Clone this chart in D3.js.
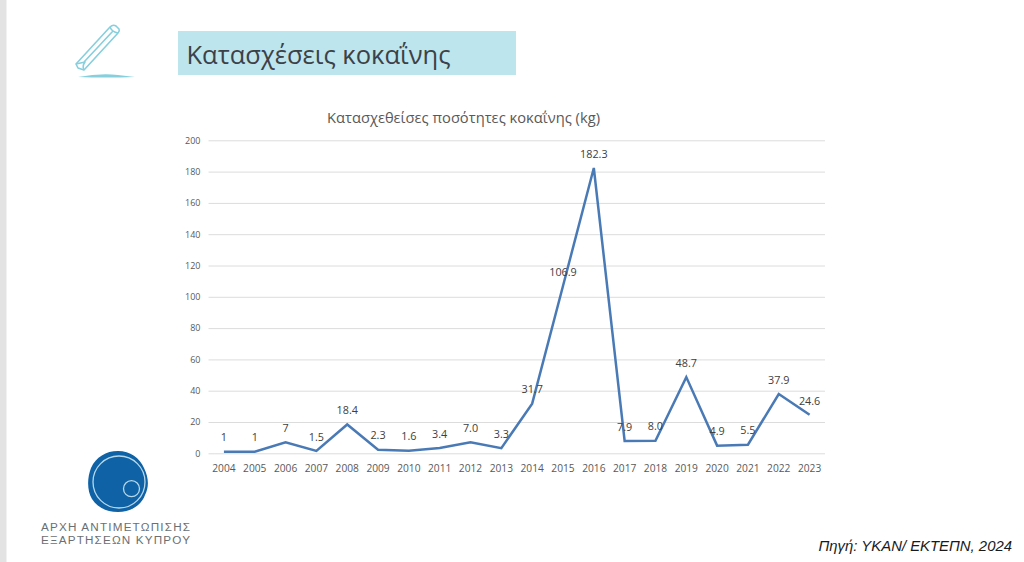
<!DOCTYPE html>
<html lang="el">
<head>
<meta charset="utf-8">
<script src="https://cdn.jsdelivr.net/npm/d3@7"></script>
<style>
html,body{margin:0;padding:0;background:#fff;}
svg{display:block;}
</style>
</head>
<body>
<svg id="c" width="1024" height="562"></svg>
<script>
const years = ["2004","2005","2006","2007","2008","2009","2010","2011","2012","2013","2014","2015","2016","2017","2018","2019","2020","2021","2022","2023"];
const values = [1,1,7,1.5,18.4,2.3,1.6,3.4,7.0,3.3,31.7,106.9,182.3,7.9,8.0,48.7,4.9,5.5,37.9,24.6];
const valueLabels = ["1","1","7","1.5","18.4","2.3","1.6","3.4","7.0","3.3","31.7","106.9","182.3","7.9","8.0","48.7","4.9","5.5","37.9","24.6"];
const yTicks = [0,20,40,60,80,100,120,140,160,180,200];
const slideTitle = "Κατασχέσεις κοκαΐνης";
const chartTitle = "Κατασχεθείσες ποσότητες κοκαΐνης (kg)";
const source = "Πηγή: ΥΚΑΝ/ ΕΚΤΕΠΝ, 2024";
const logoLines = ["ΑΡΧΗ ΑΝΤΙΜΕΤΩΠΙΣΗΣ","ΕΞΑΡΤΗΣΕΩΝ ΚΥΠΡΟΥ"];

const svg = d3.select("#c");
const font = "'Open Sans', sans-serif";

// page edge
svg.append("rect").attr("x",0).attr("y",0).attr("width",6.5).attr("height",562).attr("fill","#e3e3e3");

// heading band
svg.append("rect").attr("x",178).attr("y",31).attr("width",338).attr("height",44).attr("fill","#bce5ee");
svg.append("text").attr("x",186.5).attr("y",63.5).attr("font-family",font).attr("font-size",25.5)
  .attr("fill","#3c4148").text(slideTitle);

// rolled-note icon
const icon = svg.append("g").attr("fill","none").attr("stroke","#86cfdd").attr("stroke-width",1.6).attr("stroke-linejoin","round");
icon.append("path").attr("d","M76 64 L110 27 Q113 24 116 26 L119 29 Q120 31 118 33 L84 70 L78 68 Z");
icon.append("path").attr("d","M110 27 Q112 32 118 33 M84 62 L113 31 M84 70 Q82 66 85 62 L76 64");
svg.append("path").attr("d","M78 77 Q100 73 118 75 L135 77 Q105 78 78 77 Z").attr("fill","#86cfdd");

// chart
const x = d3.scaleBand().domain(years).range([208.5,825]);
const y = d3.scaleLinear().domain([0,200]).range([453.3,140.3]);
const cx = d => x(d) + x.bandwidth()/2;

svg.append("text").attr("x",463.5).attr("y",123).attr("text-anchor","middle")
  .attr("font-family",font).attr("font-size",14.7).attr("fill","#595959").text(chartTitle);

const gy = svg.append("g").attr("transform","translate(208.5,0)")
  .call(d3.axisLeft(y).tickValues(yTicks).tickSize(-616.5).tickPadding(8));
gy.select(".domain").remove();
gy.selectAll(".tick line").attr("stroke","#dcdcdc").attr("stroke-width",1);
gy.selectAll(".tick text").attr("font-family",font).attr("font-size",9).attr("fill","#595959");

const gx = svg.append("g").attr("transform","translate(0,453.3)")
  .call(d3.axisBottom(x).tickSize(0).tickPadding(11));
gx.select(".domain").remove();
gx.selectAll(".tick text").attr("font-family",font).attr("font-size",10.2).attr("fill","#595959");

const line = d3.line().x((d,i)=>cx(years[i])).y(d=>y(d));
svg.append("path").datum(values).attr("d",line).attr("fill","none")
  .attr("stroke","#4a7ab5").attr("stroke-width",2.5).attr("stroke-linejoin","miter");

svg.append("g").selectAll("text").data(values).join("text")
  .attr("x",(d,i)=>cx(years[i]))
  .attr("y",d=>y(d)-10.3)
  .attr("text-anchor","middle")
  .attr("font-family",font).attr("font-size",10.8).attr("fill","#404040")
  .text((d,i)=>valueLabels[i]);

// logo
svg.append("path").attr("fill","#0f62a6")
  .attr("d","M118 451 C130 451 140 458 144 468 C149 478 149 487 145 495 C141 506 130 512 118 512 C106 512 97 507 92 499 C87 491 87 478 91 468 C96 457 106 451 118 451 Z");
svg.append("circle").attr("cx",119).attr("cy",482).attr("r",26).attr("fill","none").attr("stroke","#b5d8ea").attr("stroke-width",1.3);
svg.append("circle").attr("cx",131.5).attr("cy",488.7).attr("r",8).attr("fill","none").attr("stroke","#b5d8ea").attr("stroke-width",1.3);
svg.append("g").selectAll("text").data(logoLines).join("text")
  .attr("x",41).attr("y",(d,i)=>530.5+i*13.5)
  .attr("textLength",149).attr("lengthAdjust","spacing")
  .attr("font-family","'Liberation Sans', sans-serif").attr("font-size",11.7).attr("fill","#6a6f74")
  .text(d=>d);

// source
svg.append("text").attr("x",1012).attr("y",551).attr("text-anchor","end")
  .attr("font-family","'Liberation Sans', sans-serif").attr("font-style","italic")
  .attr("font-size",14.9).attr("fill","#1a1a1a").text(source);
</script>
</body>
</html>
